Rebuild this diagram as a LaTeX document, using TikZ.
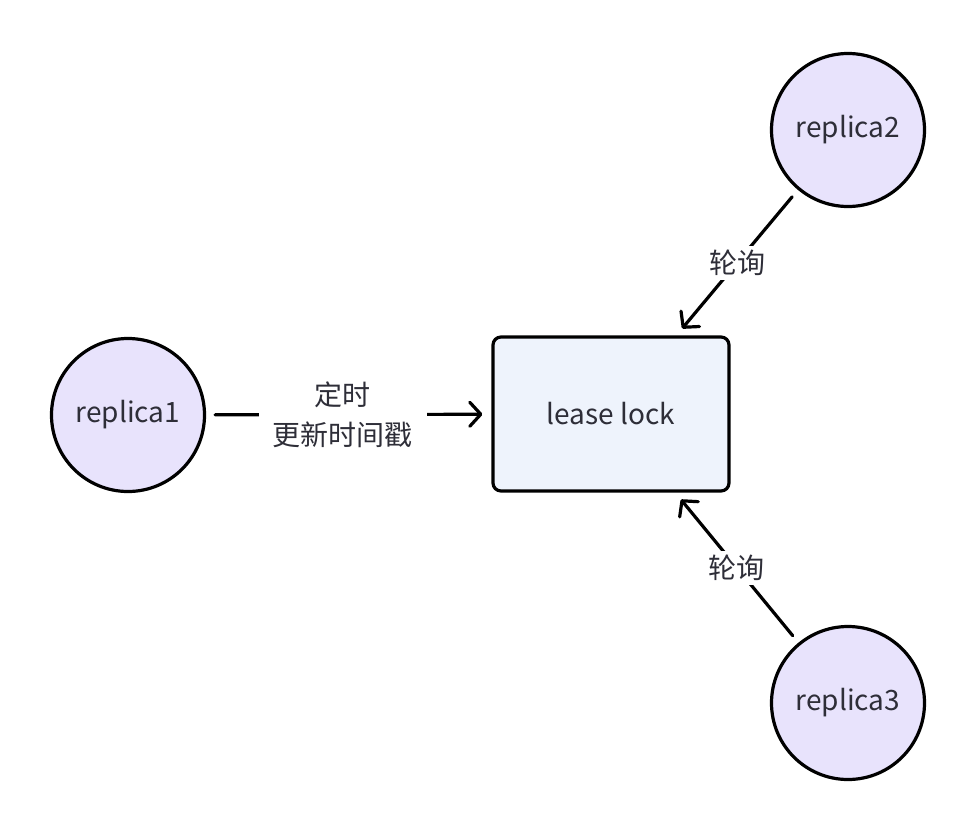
\documentclass[tikz,border=0pt]{standalone}
\usepackage{fontspec}
\setmainfont{Noto Sans CJK SC}
\usepackage{tikz}
\usetikzlibrary{arrows.meta,positioning}
\definecolor{replicafill}{HTML}{E8E3FC}
\definecolor{lockfill}{HTML}{EEF3FC}
\definecolor{inktext}{HTML}{2E2E38}

\begin{document}
\begin{tikzpicture}[
  x=1pt,y=-1pt,
  font=\fontsize{28}{40}\selectfont,
  replica/.style={circle,draw=black,line width=3.2pt,fill=replicafill,
                  minimum size=153pt,inner sep=0pt,text=inktext},
  lock/.style={rectangle,rounded corners=8pt,draw=black,line width=3.2pt,
               fill=lockfill,minimum width=236pt,minimum height=154pt,text=inktext},
  arr/.style={-{Straight Barb[length=11pt,width=24pt,round]},line width=3.2pt,
              line cap=round,shorten <=9pt,shorten >=9pt},
  lbl/.style={fill=white,text=inktext,align=center,inner xsep=14pt,inner ysep=4pt}
]
  \useasboundingbox (0,0) rectangle (978,830);

  \node[lock]    (lock)     at (611,414) {lease lock};
  \node[replica] (replica1) at (128,415) {replica1};
  \node[replica] (replica2) at (848,130) {replica2};
  \node[replica] (replica3) at (848,703) {replica3};

  \draw[arr] (replica1) -- node[lbl,xshift=-6pt] {定时\\更新时间戳} (lock);
  \draw[arr] (replica2) -- node[lbl] {轮询} (lock);
  \draw[arr] (replica3) -- node[lbl] {轮询} (lock);
\end{tikzpicture}
\end{document}
